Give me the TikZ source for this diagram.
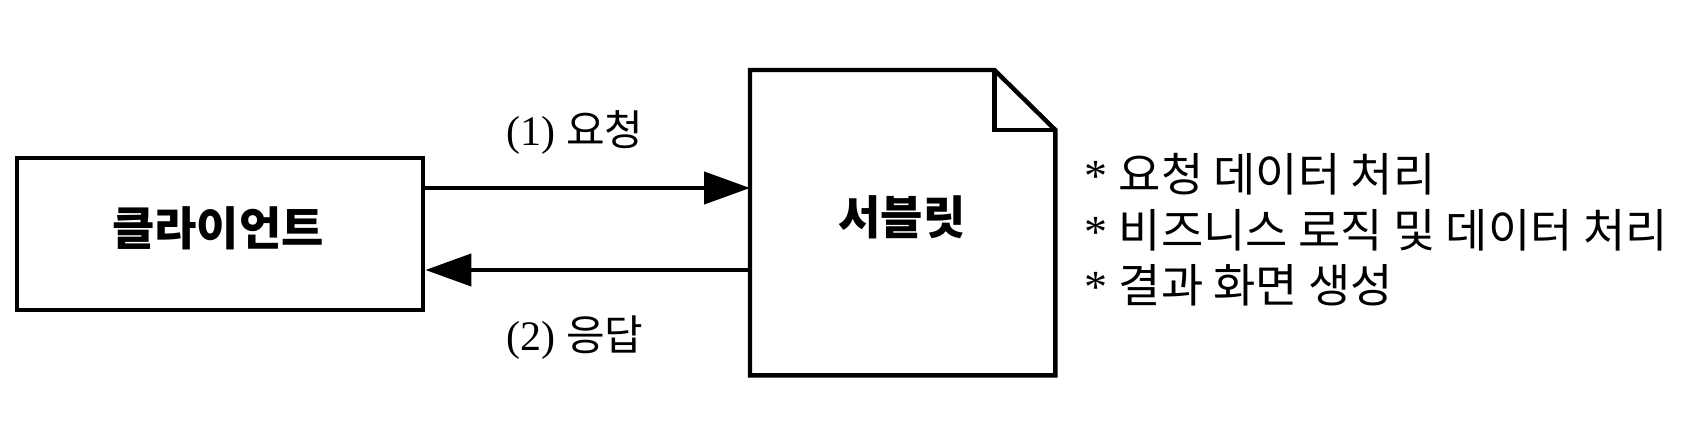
\documentclass[tikz,border=0pt]{standalone}
\usepackage{fontspec}
\setmainfont{Liberation Serif}
\newfontfamily\cjk{Noto Sans CJK KR}
\usetikzlibrary{arrows.meta}
\begin{document}
\begin{tikzpicture}[x=1pt,y=-1pt,
  box/.style={draw,line width=4.4pt,minimum width=#1,inner sep=0pt},
  arr/.style={line width=4.4pt,-{Triangle[length=46pt,width=32pt]}},
  lbl/.style={font=\fontsize{42}{52}\selectfont},
  note/.style={font=\fontsize{46}{55.5}\selectfont},
  ttl/.style={font=\fontsize{46}{52}\selectfont\cjk\bfseries}]
\useasboundingbox (0,0) rectangle (1708,446);
\node[box=406pt,minimum height=152pt,anchor=north west] (client) at (15,156) {};
\node[ttl] (clientt) at (218,228) {클라이언트};
\node[minimum width=305pt,minimum height=305pt,inner sep=0pt,anchor=north west] (servlet) at (750,70) {};
\draw[line width=4.4pt,line join=miter]
  (servlet.north west) -- ([xshift=-61pt]servlet.north east)
  -- ([yshift=-60pt]servlet.north east) -- (servlet.south east)
  -- (servlet.south west) -- cycle;
\draw[line width=4.4pt,line join=miter]
  ([xshift=-61pt]servlet.north east) |- ([yshift=-60pt]servlet.north east);
\node[ttl] (servlett) at (902,217) {서블릿};
\coordinate (c1) at (client.east |- 0,188);
\coordinate (s1) at (servlet.west |- 0,188);
\coordinate (c2) at (client.east |- 0,270);
\coordinate (s2) at (servlet.west |- 0,270);
\draw[arr] (c1) -- (s1);
\draw[arr] (s2) -- (c2);
\node[lbl] (req) at (575,133) {(1) {\cjk 요청}};
\node[lbl] (res) at (575,338) {(2) {\cjk 응답}};
\node[note,anchor=west,align=left,inner sep=0pt] (notes) at (1084,230)
  {* {\cjk 요청 데이터 처리}\\* {\cjk 비즈니스 로직 및 데이터 처리}\\* {\cjk 결과 화면 생성}};
\end{tikzpicture}
\end{document}
